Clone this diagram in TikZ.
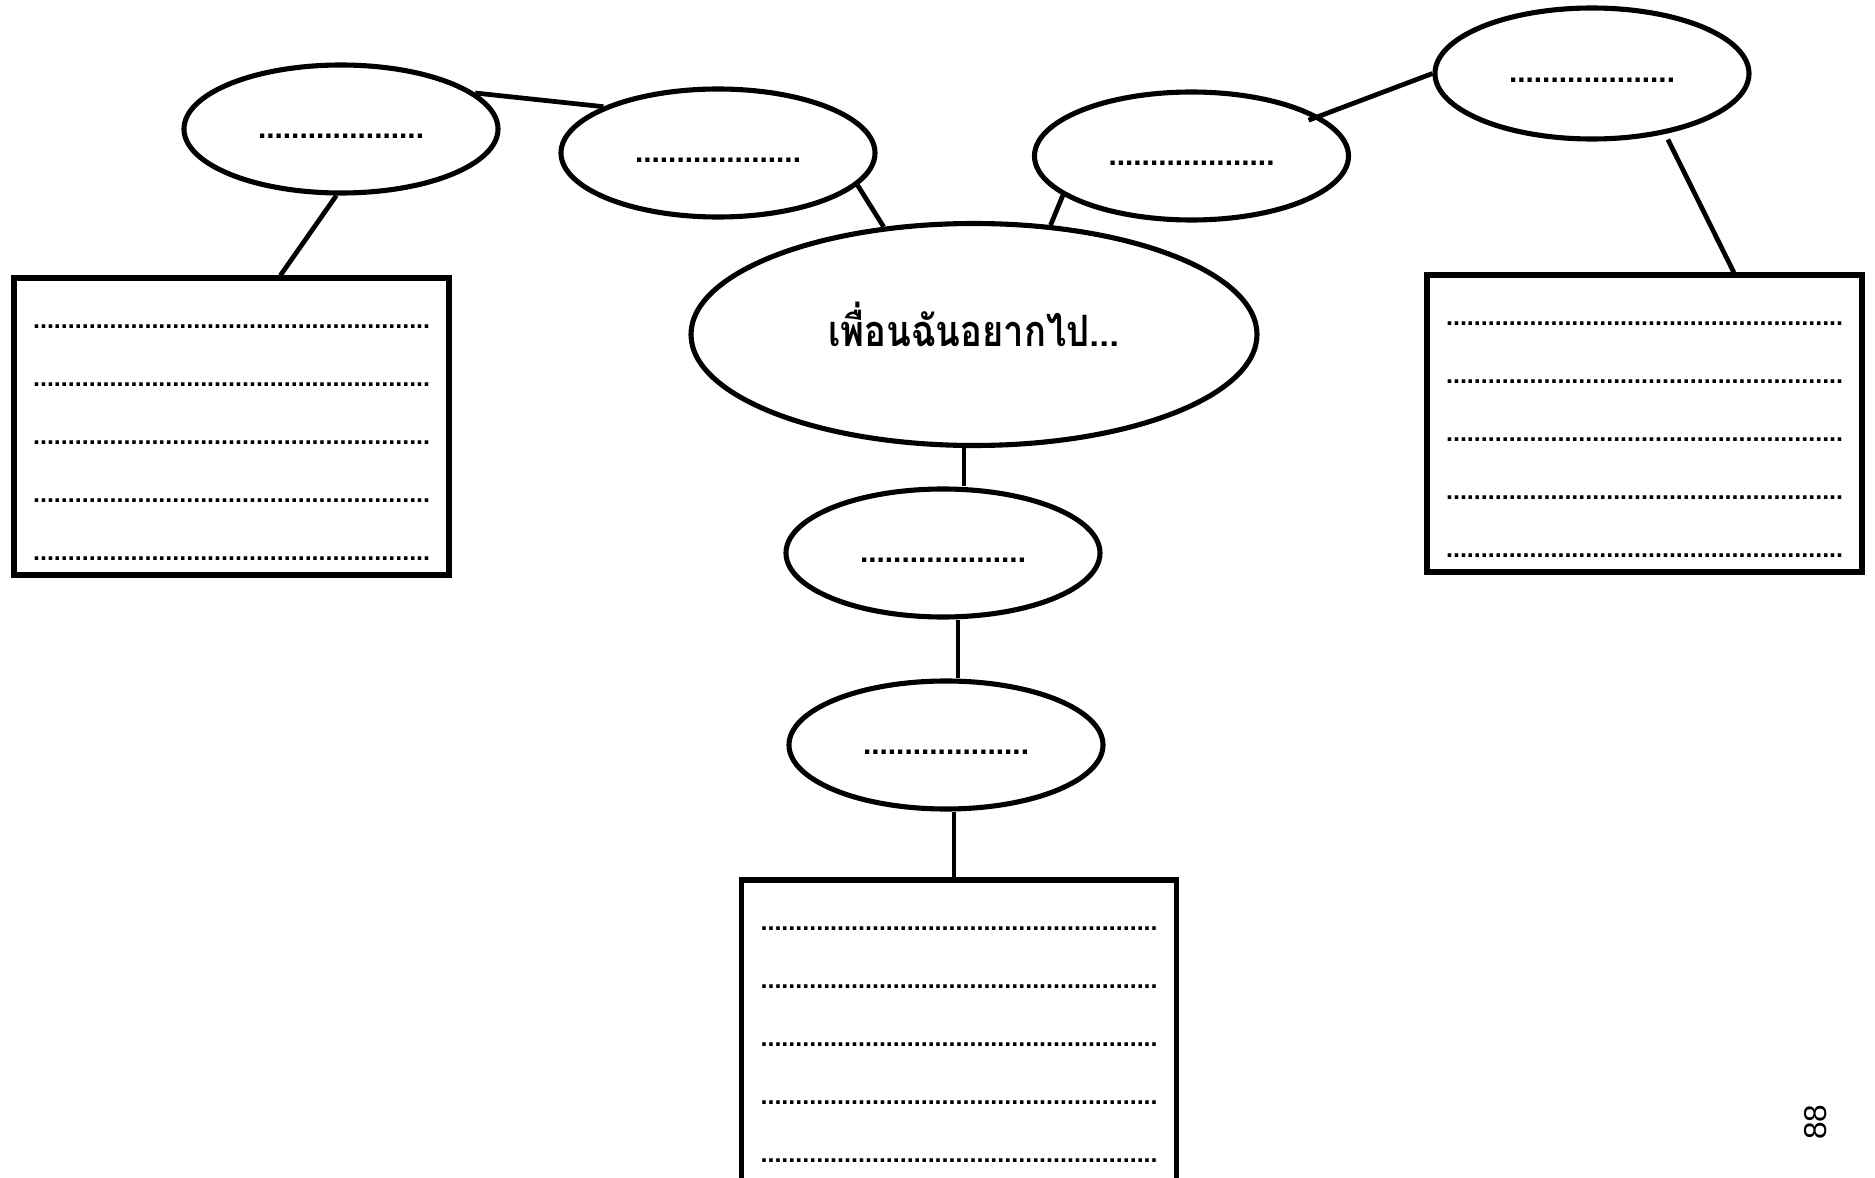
\documentclass[tikz,border=0pt]{standalone}
\usepackage{fontspec}
\usetikzlibrary{shapes.geometric,calc}
\newfontfamily\thaifont[Script=Thai]{Loma}
\newfontfamily\dotfont{Liberation Sans}
\newcommand{\myovaldots}{....................}
\newcommand{\mycarddots}{.........................................................}
\tikzset{
  oval/.style={draw, ellipse, line width=1.45pt, minimum width=3.14cm, minimum height=1.28cm, inner sep=0pt},
  card/.style={draw, rectangle, line width=1.45pt, minimum width=4.35cm, minimum height=2.97cm, inner sep=0pt},
  link/.style={line width=1.35pt},
  ovaltext/.style={anchor=base, inner sep=0pt, font=\dotfont\bfseries\fontsize{8.5pt}{10pt}\selectfont},
  cardtext/.style={anchor=base, inner sep=0pt, font=\dotfont\bfseries\fontsize{7.13pt}{9pt}\selectfont},
}
\begin{document}
\begin{tikzpicture}
\useasboundingbox (0,0) rectangle (18.75,-11.78);
\clip (0,0) rectangle (18.75,-11.78);
\fill[white] (0,0) rectangle (18.75,-11.78);

% ellipses
\node[oval] (E1) at (3.41,-1.29) {};
\node[oval] (E2) at (7.18,-1.53) {};
\node[oval] (E3) at (11.915,-1.56) {};
\node[oval, minimum height=1.31cm] (E4) at (15.92,-0.735) {};
\node[oval, minimum width=5.66cm, minimum height=2.22cm] (C) at (9.74,-3.345) {};
\node[oval] (E5) at (9.43,-5.53) {};
\node[oval] (E6) at (9.46,-7.45) {};

% central text
\node[anchor=base, inner sep=0pt, xscale=0.84, transform shape, font=\thaifont\bfseries\fontsize{12.3pt}{14pt}\selectfont] (Ct) at ($(C.center)+(0,-0.125)$) {เพื่อนฉันอยากไป...};

% dotted blanks in ellipses
\foreach \e in {E1,E2,E3,E4,E5,E6}
  \node[ovaltext] (\e t) at ($(\e.center)+(0,-0.095)$) {\myovaldots};

% boxes
\node[card] (L) at (2.315,-4.265) {};
\node[card] (R) at (16.445,-4.235) {};
\node[card, minimum height=3.10cm] (B) at (9.59,-10.35) {};

\foreach \bx in {L,R,B}
  \foreach \k [count=\i] in {0.53,1.11,1.69,2.27,2.85}
    \node[cardtext] (\bx d\i) at ($(\bx.north)+(0,-\k)$) {\mycarddots};

% connector end points
\coordinate (c5) at ($(E5.south)+(0.15,0)$);
\coordinate (c6) at ($(E6.south)+(0.08,0)$);
\coordinate (lt) at ($(L.north west)!0.611!(L.north east)$);
\coordinate (rt) at ($(R.north west)!0.703!(R.north east)$);
\coordinate (e3in) at ($(E3.center)!0.91!(E3.17)$);
\coordinate (e4out) at ($(E4.center)!1.08!(E4.-41)$);

% connectors
\draw[link] (E1.-94) -- (lt);
\draw[link] (E1.15) -- (E2.158);
\draw[link] (E2.-13) -- (C.130);
\draw[link] (E3.197) -- (C.55);
\draw[link] (e3in) -- (E4.west);
\draw[link] (e4out) -- (rt);
\draw[link] (C.-95) -- (C.-95 |- E5.north);
\draw[link] (c5) -- (c5 |- E6.north);
\draw[link] (c6) -- (c6 |- B.north);

% page number
\node[rotate=90, inner sep=0pt, font=\dotfont\fontsize{9pt}{10pt}\selectfont] (pg) at (18.16,-11.22) {88};
\end{tikzpicture}
\end{document}
